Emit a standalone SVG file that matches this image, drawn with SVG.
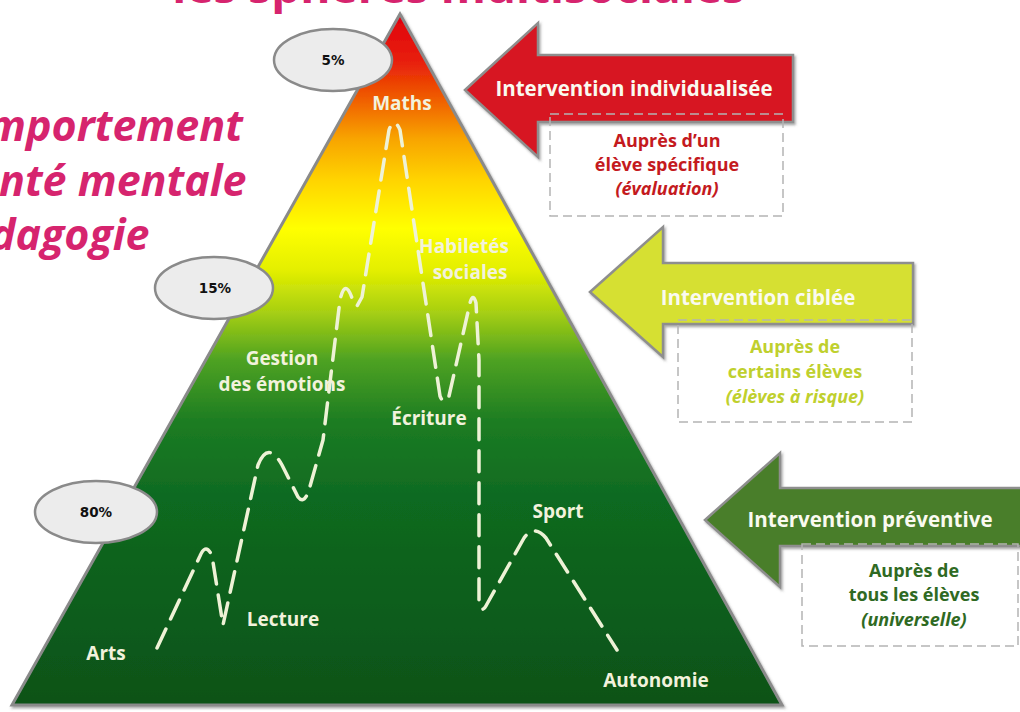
<svg xmlns="http://www.w3.org/2000/svg" width="1020" height="712" viewBox="0 0 1020 712">
<defs>
<linearGradient id="pyr" gradientUnits="userSpaceOnUse" x1="0" y1="14" x2="0" y2="706">
<stop offset="0" stop-color="#e00012"/>
<stop offset="0.07" stop-color="#e8200a"/>
<stop offset="0.125" stop-color="#f06000"/>
<stop offset="0.18" stop-color="#f8a400"/>
<stop offset="0.24" stop-color="#ffd400"/>
<stop offset="0.31" stop-color="#ffff00"/>
<stop offset="0.37" stop-color="#e4ef00"/>
<stop offset="0.43" stop-color="#a8d012"/>
<stop offset="0.50" stop-color="#4ea222"/>
<stop offset="0.59" stop-color="#1c7c20"/>
<stop offset="0.70" stop-color="#0f6a20"/>
<stop offset="1" stop-color="#0a5218"/>
</linearGradient>
<filter id="sh" x="-5%" y="-5%" width="110%" height="110%">
<feDropShadow dx="1.5" dy="2" stdDeviation="1.2" flood-color="#555" flood-opacity="0.5"/>
</filter>
</defs>
<style>
.title{font-family:"Open Sans","Noto Sans",sans-serif;font-weight:bold;fill:#d6246e}
.side{font-family:"Open Sans","Noto Sans",sans-serif;font-weight:bold;font-style:italic;font-size:43px;fill:#d6246e}
.ell{fill:#ececec;stroke:#8a8a8a;stroke-width:2.5}
.pct{font-family:"DejaVu Sans",Verdana,sans-serif;font-weight:bold;font-size:13.5px;fill:#111;text-anchor:middle}
.lbl{font-family:"Open Sans","Noto Sans",sans-serif;font-weight:bold;font-size:19px;fill:#f2f2dc;text-anchor:middle}
.arw{stroke:#8e8e8e;stroke-width:2.5;stroke-linejoin:miter}
.atx{font-family:"Open Sans","Noto Sans",sans-serif;font-weight:bold;font-size:20.5px;fill:#fafaf0;text-anchor:middle}
.box{fill:none;stroke:#b4b4b4;stroke-width:1.5;stroke-dasharray:9,5}
.btx{font-family:"Open Sans","Noto Sans",sans-serif;font-weight:bold;font-size:18px;text-anchor:middle}
.it{font-style:italic}
.path{fill:none;stroke:#eef2d6;stroke-width:3.5;stroke-dasharray:21,11;stroke-linecap:round;stroke-linejoin:round}
</style>
<rect width="1020" height="712" fill="#ffffff"/>
<text class="title" x="745" y="3" font-size="46" text-anchor="end">les sphères multisociales</text>
<g id="side-text">
<text class="side" x="-13" y="141">mportement</text>
<text class="side" x="-1" y="196">nté mentale</text>
<text class="side" x="-10" y="250">dagogie</text>
</g>
<g id="pyramid">
<polygon points="400,14 12,705 782,705" fill="url(#pyr)" stroke="#8a8a8a" stroke-width="3" filter="url(#sh)"/>
</g>
<g id="connectors">
<path class="path" d="M157,648 L200,556 Q206,542 212,556 L223,625 L258,465 Q268,440 282,465 L298,497 Q304,505 309,490 L323,440 L340,300 Q345,278 352,298 L357,306 L362,297 L389,130 Q394,116 400,130 L415,230 L440,396 Q444,406 449,396 L470,303 Q473,292 476,303 L479,360 L479,600 Q481,616 487,604 L524,538 Q534,524 546,538 L617,650"/>
</g>
<g id="labels">
<text class="lbl" x="402" y="110">Maths</text>
<text class="lbl" x="464" y="253">Habiletés</text>
<text class="lbl" x="470" y="279">sociales</text>
<text class="lbl" x="282" y="365">Gestion</text>
<text class="lbl" x="282" y="391">des  émotions</text>
<text class="lbl" x="429" y="425">Écriture</text>
<text class="lbl" x="106" y="660">Arts</text>
<text class="lbl" x="283" y="626">Lecture</text>
<text class="lbl" x="558" y="518">Sport</text>
<text class="lbl" x="656" y="687">Autonomie</text>
</g>
<g id="p5">
<ellipse class="ell" cx="333" cy="60" rx="59" ry="31"/>
<text class="pct" x="333" y="65">5%</text>
</g>
<g id="p15">
<ellipse class="ell" cx="214" cy="288" rx="59" ry="31"/>
<text class="pct" x="215" y="293">15%</text>
</g>
<g id="p80">
<ellipse class="ell" cx="96" cy="512" rx="61" ry="31"/>
<text class="pct" x="96" y="517">80%</text>
</g>
<g id="arrow-individualisee">
<polygon class="arw" points="465,90 538,23 538,55 793,55 793,122 538,122 538,157" fill="#d71920" filter="url(#sh)"/>
<text class="atx" x="634" y="96">Intervention individualisée</text>
<rect class="box" x="550" y="114" width="233" height="102"/>
<text class="btx" x="667" y="147" fill="#c41a1e">Auprès d’un</text>
<text class="btx" x="667" y="171" fill="#c41a1e">élève spécifique</text>
<text class="btx it" x="667" y="195" fill="#c41a1e">(évaluation)</text>
</g>
<g id="arrow-ciblee">
<polygon class="arw" points="590,292 663,227 663,263 913,263 913,324 663,324 663,357" fill="#d6e030" filter="url(#sh)"/>
<text class="atx" x="758" y="305">Intervention ciblée</text>
<rect class="box" x="678" y="320" width="234" height="102"/>
<text class="btx" x="795" y="353" fill="#bfd02e">Auprès de</text>
<text class="btx" x="795" y="378" fill="#bfd02e">certains élèves</text>
<text class="btx it" x="795" y="403" fill="#bfd02e">(élèves à risque)</text>
</g>
<g id="arrow-preventive">
<polygon class="arw" points="705,520 780,453 780,488 1025,488 1025,546 780,546 780,587" fill="#4a7e2a" filter="url(#sh)"/>
<text class="atx" x="870" y="527">Intervention préventive</text>
<rect class="box" x="802" y="544" width="216" height="102"/>
<text class="btx" x="914" y="577" fill="#2f6a23">Auprès de</text>
<text class="btx" x="914" y="601" fill="#2f6a23">tous les élèves</text>
<text class="btx it" x="914" y="626" fill="#2f6a23">(universelle)</text>
</g>
</svg>
